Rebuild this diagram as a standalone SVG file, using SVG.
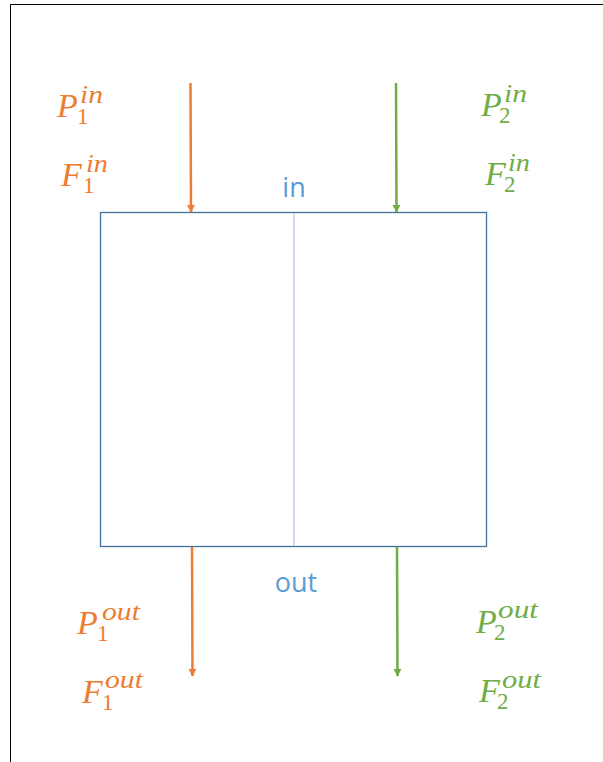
<svg xmlns="http://www.w3.org/2000/svg" width="603" height="762" viewBox="0 0 603 762">
<style>
.m{font-family:"Liberation Serif","DejaVu Serif",serif;font-size:34px;font-style:italic}
.s{font-size:23px;font-style:normal}
.p{font-size:25px;font-style:italic}
.o{fill:#ED7D31}
.g{fill:#70AD47}
.lbl{font-family:"Open Sans","Noto Sans",sans-serif;font-size:27px;fill:#5B9BD5;text-anchor:middle}
.ao{stroke:#ED7D31;stroke-width:2.5;fill:none}
.ag{stroke:#70AD47;stroke-width:2.5;fill:none}
</style>
<defs>
<marker id="mo" viewBox="0 0 10 10" refX="9" refY="5" markerWidth="3.4" markerHeight="3.2" orient="auto" markerUnits="strokeWidth"><path d="M0,0 L10,5 L0,10 z" fill="#ED7D31"/></marker>
<marker id="mg" viewBox="0 0 10 10" refX="9" refY="5" markerWidth="3.4" markerHeight="3.2" orient="auto" markerUnits="strokeWidth"><path d="M0,0 L10,5 L0,10 z" fill="#70AD47"/></marker>
</defs>
<rect width="603" height="762" fill="#fff"/>
<path d="M10.5,762 V4.5 H603" stroke="#000" stroke-width="1" fill="none"/>
<g id="box">
<rect x="100.5" y="212.5" width="386" height="334" fill="#fff" stroke="#41719C" stroke-width="1.3"/>
<line x1="294" y1="213" x2="294" y2="546" stroke="#B4C7E7" stroke-width="1.3"/>
</g>
<g id="label-in"><text class="lbl" x="294" y="197">in</text></g>
<g id="label-out"><text class="lbl" x="296" y="592">out</text></g>
<g id="connectors">
<line class="ao" x1="190.5" y1="83" x2="191" y2="212" marker-end="url(#mo)"/>
<line class="ag" x1="396" y1="83" x2="396.5" y2="212" marker-end="url(#mg)"/>
<line class="ao" x1="192" y1="547" x2="192.5" y2="676" marker-end="url(#mo)"/>
<line class="ag" x1="397" y1="547" x2="397.5" y2="676" marker-end="url(#mg)"/>
</g>
<g id="P1in"><text class="m o"><tspan x="57" y="117">P</tspan><tspan class="s" x="77" y="124">1</tspan><tspan class="p" x="80" y="103" textLength="23" lengthAdjust="spacingAndGlyphs">in</tspan></text></g>
<g id="F1in"><text class="m o"><tspan x="61" y="186">F</tspan><tspan class="s" x="83" y="193">1</tspan><tspan class="p" x="86" y="172" textLength="22" lengthAdjust="spacingAndGlyphs">in</tspan></text></g>
<g id="P2in"><text class="m g"><tspan x="481" y="116">P</tspan><tspan class="s" x="499" y="123">2</tspan><tspan class="p" x="504" y="102" textLength="23" lengthAdjust="spacingAndGlyphs">in</tspan></text></g>
<g id="F2in"><text class="m g"><tspan x="485" y="185">F</tspan><tspan class="s" x="504" y="192">2</tspan><tspan class="p" x="508" y="171" textLength="22" lengthAdjust="spacingAndGlyphs">in</tspan></text></g>
<g id="P1out"><text class="m o"><tspan x="77" y="634">P</tspan><tspan class="s" x="97" y="641">1</tspan><tspan class="p" x="102" y="620" textLength="38" lengthAdjust="spacingAndGlyphs">out</tspan></text></g>
<g id="F1out"><text class="m o"><tspan x="82" y="703">F</tspan><tspan class="s" x="102" y="710">1</tspan><tspan class="p" x="105" y="688" textLength="38" lengthAdjust="spacingAndGlyphs">out</tspan></text></g>
<g id="P2out"><text class="m g"><tspan x="476" y="633">P</tspan><tspan class="s" x="494" y="640">2</tspan><tspan class="p" x="498" y="618" textLength="40" lengthAdjust="spacingAndGlyphs">out</tspan></text></g>
<g id="F2out"><text class="m g"><tspan x="479" y="702">F</tspan><tspan class="s" x="497" y="709">2</tspan><tspan class="p" x="502" y="688" textLength="39" lengthAdjust="spacingAndGlyphs">out</tspan></text></g>
</svg>
